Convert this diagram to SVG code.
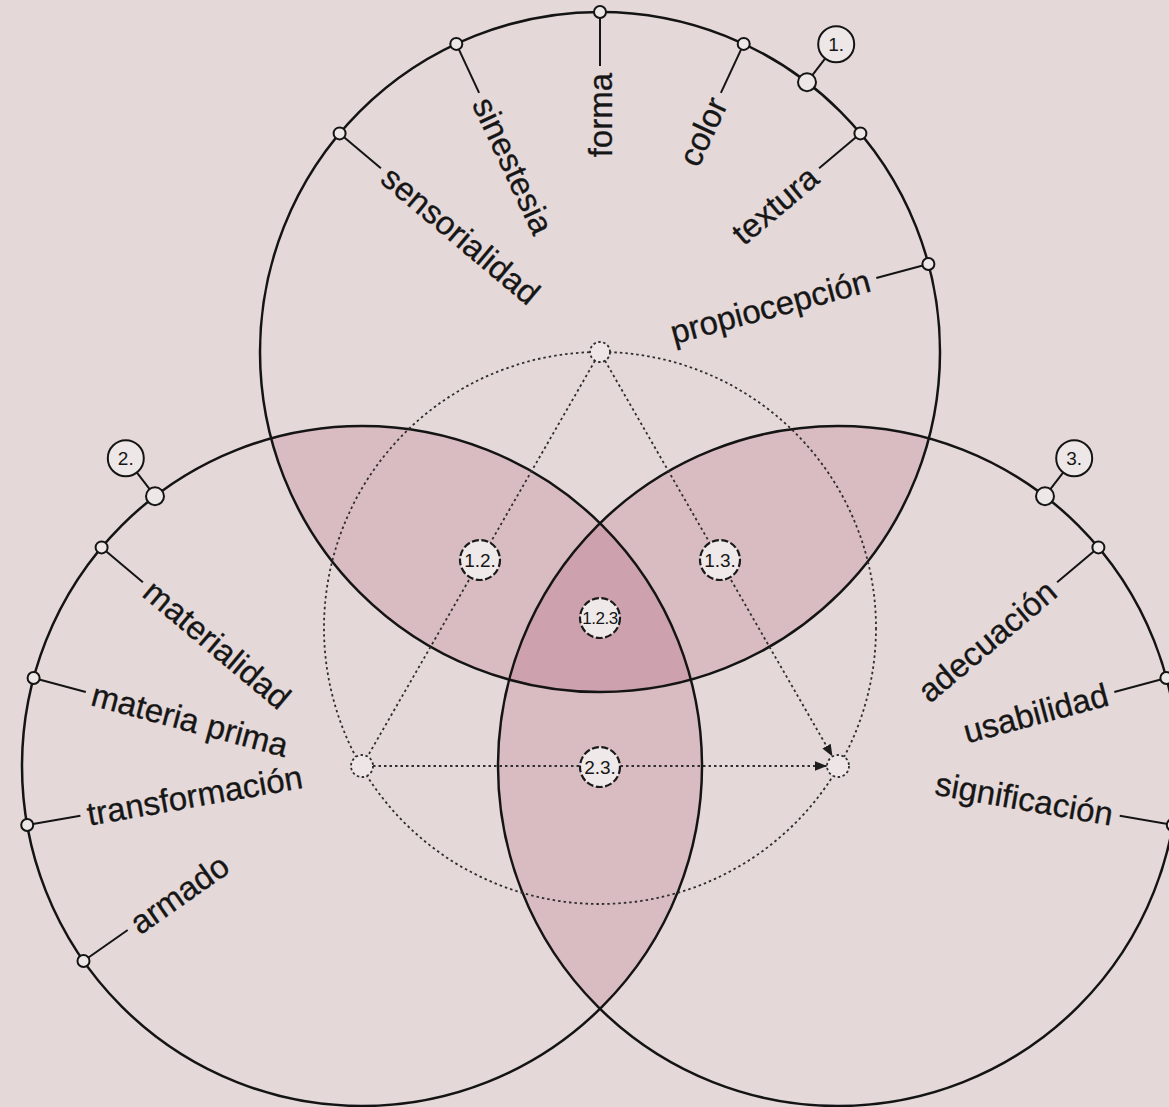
<svg xmlns="http://www.w3.org/2000/svg" width="1169" height="1107" viewBox="0 0 1169 1107">
<defs>
<style>
.c{fill:none;stroke:#141414;stroke-width:2.5}
.tk{stroke:#141414;stroke-width:2;fill:none}
.nd{fill:#ede7e7;stroke:#141414;stroke-width:2}
.lbl{font-family:"Liberation Sans",Arial,sans-serif;font-size:33px;fill:#161616;stroke:#161616;stroke-width:0.3}
.num{font-family:"Liberation Sans",Arial,sans-serif;font-size:19px;fill:#161616;text-anchor:middle}
.dot{fill:none;stroke:#2e2e2e;stroke-width:1.8;stroke-dasharray:2.5 3}
.dn{fill:#ede5e6;stroke:#2e2e2e;stroke-width:1.8;stroke-dasharray:2.5 2.5}
.bn{fill:#efe9ea;stroke:#1a1a1a;stroke-width:2.2;stroke-dasharray:7 2.5}
.pair{fill:#d9bcc2}
.tri{fill:#cda1ad}
</style>
<marker id="arr" viewBox="0 0 10 10" refX="10" refY="5" markerWidth="12" markerHeight="12" markerUnits="userSpaceOnUse" orient="auto">
<path d="M0,1 L10,5 L0,9 z" fill="#1e1e1e"/>
</marker>
</defs>
<rect x="0" y="0" width="1169" height="1107" fill="#e4d8d8"/>

<g id="regions">
<path class="pair" d="M271.1,438.4 A340,340 0 0 1 690.9,679.6 A340,340 0 0 1 271.1,438.4 Z"/>
<path class="pair" d="M509.1,679.6 A340,340 0 0 1 928.9,438.4 A340,340 0 0 1 509.1,679.6 Z"/>
<path class="pair" d="M600,523.2 A340,340 0 0 1 600,1008.8 A340,340 0 0 1 600,523.2 Z"/>
<path class="tri" d="M600,523.2 A340,340 0 0 1 690.9,679.6 A340,340 0 0 1 509.1,679.6 A340,340 0 0 1 600,523.2 Z"/>
</g>

<g id="circle-1"><circle class="c" cx="600" cy="352" r="340"/></g>
<g id="circle-2"><circle class="c" cx="362" cy="766" r="340"/></g>
<g id="circle-3"><circle class="c" cx="838" cy="766" r="340"/></g>

<g id="connectors">
<circle class="dot" cx="600" cy="628" r="276"/>
<line class="dot" x1="595" y1="360.7" x2="367.5" y2="756.5"/>
<line class="dot" x1="605" y1="360.7" x2="832.5" y2="756.5" marker-end="url(#arr)"/>
<line class="dot" x1="373" y1="766" x2="827" y2="766" marker-end="url(#arr)"/>
</g>

<g id="node-center-1"><circle class="dn" cx="600" cy="352" r="10"/></g>
<g id="node-center-2"><circle class="dn" cx="362" cy="766" r="11"/></g>
<g id="node-center-3"><circle class="dn" cx="838" cy="766" r="11"/></g>

<g id="node-1-2"><circle class="bn" cx="480" cy="560" r="20"/><text class="num" x="480" y="560" dy=".35em">1.2.</text></g>
<g id="node-1-3"><circle class="bn" cx="720" cy="560" r="20"/><text class="num" x="720" y="560" dy=".35em">1.3.</text></g>
<g id="node-1-2-3"><circle class="bn" cx="600" cy="618" r="20"/><text class="num" x="600" y="618" dy=".35em" style="font-size:17px;letter-spacing:-0.5px">1.2.3</text></g>
<g id="node-2-3"><circle class="bn" cx="600" cy="767" r="20"/><text class="num" x="600" y="767" dy=".35em">2.3.</text></g>

<g id="label-1">
<line class="tk" x1="807" y1="82.2" x2="836.2" y2="44.2"/>
<circle class="nd" cx="807" cy="82.2" r="9"/>
<circle class="nd" cx="836.2" cy="44.2" r="18"/>
<text class="num" x="836.2" y="44.2" dy=".35em">1.</text>
</g>
<g id="label-2">
<line class="tk" x1="155" y1="496.2" x2="125.8" y2="458.2"/>
<circle class="nd" cx="155" cy="496.2" r="9"/>
<circle class="nd" cx="125.8" cy="458.2" r="18"/>
<text class="num" x="125.8" y="458.2" dy=".35em">2.</text>
</g>
<g id="label-3">
<line class="tk" x1="1045" y1="496.2" x2="1074.2" y2="458.2"/>
<circle class="nd" cx="1045" cy="496.2" r="9"/>
<circle class="nd" cx="1074.2" cy="458.2" r="18"/>
<text class="num" x="1074.2" y="458.2" dy=".35em">3.</text>
</g>

<g id="sensorialidad">
<line class="tk" x1="339.6" y1="133.4" x2="380.9" y2="168.2"/>
<circle class="nd" cx="339.6" cy="133.4" r="6"/>
<text class="lbl" transform="translate(386.3 172.7) rotate(40)" dy=".35em">sensorialidad</text>
</g>
<g id="sinestesia">
<line class="tk" x1="456.3" y1="43.9" x2="479.1" y2="92.8"/>
<circle class="nd" cx="456.3" cy="43.9" r="6"/>
<text class="lbl" transform="translate(482.1 99.1) rotate(65)" dy=".35em">sinestesia</text>
</g>
<g id="forma">
<line class="tk" x1="600" y1="12" x2="600" y2="66"/>
<circle class="nd" cx="600" cy="12" r="6"/>
<text class="lbl" text-anchor="end" transform="translate(600 73) rotate(-90)" dy=".35em">forma</text>
</g>
<g id="color">
<line class="tk" x1="743.7" y1="43.9" x2="720.9" y2="92.8"/>
<circle class="nd" cx="743.7" cy="43.9" r="6"/>
<text class="lbl" text-anchor="end" transform="translate(717.9 99.1) rotate(-65)" dy=".35em">color</text>
</g>
<g id="textura">
<line class="tk" x1="860.4" y1="133.4" x2="819.1" y2="168.2"/>
<circle class="nd" cx="860.4" cy="133.4" r="6"/>
<text class="lbl" text-anchor="end" transform="translate(813.7 172.7) rotate(-40)" dy=".35em">textura</text>
</g>
<g id="propiocepcion">
<line class="tk" x1="928.4" y1="264" x2="876.3" y2="278"/>
<circle class="nd" cx="928.4" cy="264" r="6"/>
<text class="lbl" text-anchor="end" transform="translate(869.5 279.8) rotate(-15)" dy=".35em">propiocepción</text>
</g>

<g id="materialidad">
<line class="tk" x1="101.6" y1="547.4" x2="142.9" y2="582.2"/>
<circle class="nd" cx="101.6" cy="547.4" r="6"/>
<text class="lbl" transform="translate(148.3 586.7) rotate(40)" dy=".35em">materialidad</text>
</g>
<g id="materia-prima">
<line class="tk" x1="33.6" y1="678" x2="85.8" y2="692"/>
<circle class="nd" cx="33.6" cy="678" r="6"/>
<text class="lbl" transform="translate(92.5 693.8) rotate(15)" dy=".35em">materia prima</text>
</g>
<g id="transformacion">
<line class="tk" x1="27.2" y1="825" x2="80.4" y2="815.7"/>
<circle class="nd" cx="27.2" cy="825" r="6"/>
<text class="lbl" transform="translate(87.2 814.4) rotate(-10)" dy=".35em">transformación</text>
</g>
<g id="armado">
<line class="tk" x1="83.5" y1="961" x2="127.7" y2="930"/>
<circle class="nd" cx="83.5" cy="961" r="6"/>
<text class="lbl" transform="translate(133.4 926) rotate(-35)" dy=".35em">armado</text>
</g>

<g id="adecuacion">
<line class="tk" x1="1098.4" y1="547.4" x2="1057.1" y2="582.2"/>
<circle class="nd" cx="1098.4" cy="547.4" r="6"/>
<text class="lbl" text-anchor="end" transform="translate(1051.7 586.7) rotate(-40)" dy=".35em">adecuación</text>
</g>
<g id="usabilidad">
<line class="tk" x1="1166.4" y1="678" x2="1114.3" y2="692"/>
<circle class="nd" cx="1166.4" cy="678" r="6"/>
<text class="lbl" text-anchor="end" transform="translate(1107.5 693.8) rotate(-15)" dy=".35em">usabilidad</text>
</g>
<g id="significacion">
<line class="tk" x1="1172.8" y1="825" x2="1119.7" y2="815.7"/>
<circle class="nd" cx="1172.8" cy="825" r="6"/>
<text class="lbl" text-anchor="end" transform="translate(1112.8 814.4) rotate(10)" dy=".35em">significación</text>
</g>
</svg>
